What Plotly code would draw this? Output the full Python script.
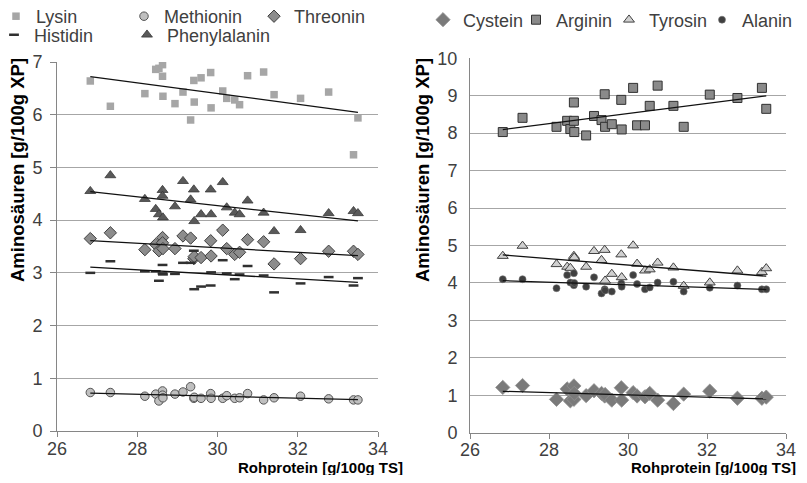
import numpy as np
import plotly.graph_objects as go

# Shared x: Rohprotein [g/100g TS]
rohprotein = [26.83, 27.33, 28.19, 28.46, 28.54, 28.63, 28.63, 28.64, 28.94, 29.14,
              29.33, 29.41, 29.42, 29.59, 29.83, 29.84, 30.13, 30.23, 30.43, 30.55,
              30.75, 31.15, 31.41, 32.07, 32.77, 33.39, 33.50]

# Left panel series [g/100g XP]
lysin = [6.64, 6.16, 6.40, 6.86, 6.88, 6.95, 6.73, 6.35, 6.21, 6.43,
         5.90, 6.65, 6.24, 6.70, 6.80, 6.13, 6.45, 6.31, 6.28, 6.19,
         6.74, 6.81, 6.38, 6.31, 6.43, 5.24, 5.94]
methionin = [0.73, 0.73, 0.66, 0.70, 0.57, 0.76, 0.68, 0.63, 0.70, 0.74,
             0.84, 0.62, 0.64, 0.62, 0.71, 0.62, 0.62, 0.67, 0.62, 0.63,
             0.71, 0.59, 0.63, 0.66, 0.61, 0.59, 0.59]
threonin = [3.65, 3.76, 3.44, 3.54, 3.42, 3.67, 3.57, 3.46, 3.46, 3.70,
            3.66, 3.27, 3.31, 3.29, 3.61, 3.32, 3.81, 3.46, 3.35, 3.39,
            3.63, 3.59, 3.17, 3.27, 3.41, 3.41, 3.35]
histidin = [3.00, 3.22, 3.03, 3.03, 2.85, 3.15, 2.99, 2.97, 2.98, 3.19,
            3.19, 3.42, 2.69, 2.74, 2.76, 3.01, 3.24, 2.99, 2.88, 2.97,
            3.13, 2.95, 2.63, 2.80, 2.92, 2.76, 2.90]
phenylalanin = [4.55, 4.85, 4.40, 4.21, 4.11, 4.57, 4.46, 4.05, 4.26, 4.74,
                4.39, 4.58, 3.98, 4.11, 4.58, 4.11, 4.72, 4.24, 4.14, 4.11,
                4.37, 4.14, 3.79, 3.81, 4.13, 4.17, 4.13]

# Right panel series [g/100g XP]
cystein = [1.21, 1.26, 0.89, 1.17, 0.85, 1.25, 0.89, 1.05, 0.99, 1.12,
           1.05, 0.98, 1.02, 0.87, 1.20, 0.87, 1.07, 0.98, 0.96, 1.05,
           0.87, 0.78, 1.03, 1.11, 0.92, 0.92, 0.95]
arginin = [8.03, 8.41, 8.17, 8.33, 8.11, 8.82, 8.33, 8.03, 7.94, 8.46,
           8.35, 9.04, 8.17, 8.24, 8.89, 8.10, 9.21, 8.21, 8.21, 8.73,
           9.27, 8.73, 8.17, 9.03, 8.94, 9.21, 8.65]
tyrosin = [4.72, 4.99, 4.50, 4.43, 4.40, 4.72, 4.66, 4.68, 4.43, 4.85,
           4.61, 4.88, 4.06, 4.24, 4.76, 4.15, 5.00, 4.51, 4.33, 4.36,
           4.54, 4.41, 3.92, 4.01, 4.33, 4.29, 4.39]
alanin = [4.10, 4.10, 3.86, 4.21, 4.01, 4.26, 3.94, 4.00, 3.90, 4.15,
          3.72, 3.83, 3.80, 3.77, 3.99, 3.90, 4.21, 3.97, 3.83, 3.88,
          4.01, 4.03, 3.77, 3.87, 3.93, 3.83, 3.83]

x_ticks = [26, 28, 30, 32, 34]
y_ticks_left = [0, 1, 2, 3, 4, 5, 6, 7]
y_ticks_right = [0, 1, 2, 3, 4, 5, 6, 7, 8, 9, 10]

# the page keeps the browser's default 8px body margin, so the figure is
# sized to fill the 807x483 window exactly inside it
PAGE_W, PAGE_H, BODY_M = 807, 483, 8
W, H = PAGE_W - 2 * BODY_M, PAGE_H - 2 * BODY_M
FONT = "Liberation Sans, Arial, sans-serif"
TICKC = "#404040"
GRID = "#a6a6a6"
AXC = "#868686"


def fx(p):
    """page pixel x -> paper fraction"""
    return (p - BODY_M) / W


def fy(p):
    """page pixel y (from top) -> paper fraction"""
    return 1 - (p - BODY_M) / H


fig = go.Figure()


def add_series(name, y, xa, ya, legend, symbol, size, color, lcolor, lwidth):
    fig.add_trace(go.Scatter(
        x=rohprotein, y=y, mode="markers", name=name, xaxis=xa, yaxis=ya,
        legend=legend,
        marker=dict(symbol=symbol, size=size, color=color,
                    line=dict(color=lcolor, width=lwidth)),
    ))
    xs = np.array(rohprotein)
    k, d = np.polyfit(xs, np.array(y), 1)
    x0, x1 = xs.min(), xs.max()
    fig.add_trace(go.Scatter(
        x=[x0, x1], y=[k * x0 + d, k * x1 + d], mode="lines",
        line=dict(color="#111111", width=1.3), showlegend=False,
        xaxis=xa, yaxis=ya, hoverinfo="skip",
    ))


add_series("Lysin", lysin, "x", "y", "legend", "square", 7.5, "#a6a6a6", "#a6a6a6", 0)
add_series("Methionin", methionin, "x", "y", "legend2", "circle", 8.5, "#bfbfbf", "#555555", 1)
add_series("Threonin", threonin, "x", "y", "legend3", "diamond", 9.5, "#8c8c8c", "#404040", 1)
add_series("Histidin", histidin, "x", "y", "legend4", "line-ew", 7, "#303030", "#303030", 2.5)
add_series("Phenylalanin", phenylalanin, "x", "y", "legend5", "triangle-up", 9.5, "#595959", "#3a3a3a", 0.8)

add_series("Cystein", cystein, "x2", "y2", "legend6", "diamond", 11, "#7a7a7a", "#909090", 0.8)
add_series("Arginin", arginin, "x2", "y2", "legend7", "square", 9, "#8a8a8a", "#303030", 1)
add_series("Tyrosin", tyrosin, "x2", "y2", "legend8", "triangle-up", 9.5, "#d0d0d0", "#404040", 1)
add_series("Alanin", alanin, "x2", "y2", "legend9", "circle", 7, "#404040", "#707070", 0.6)

LEGF = dict(family=FONT, size=18, color=TICKC)


def leg(item_x, center_y):
    return dict(orientation="h", x=fx(item_x), y=fy(center_y), xanchor="left",
                yanchor="middle", itemwidth=30, font=LEGF,
                bgcolor="rgba(0,0,0,0)", borderwidth=0)


common_x = dict(range=[26, 34], tickvals=x_ticks, showgrid=False, zeroline=False,
                showline=True, linecolor=AXC, linewidth=1, ticks="outside",
                ticklen=5, tickcolor=AXC, automargin=False, ticklabelstandoff=-4,
                tickfont=dict(family=FONT, size=18, color=TICKC))
common_y = dict(showgrid=True, gridcolor=GRID, gridwidth=1, zeroline=False,
                showline=True, linecolor=AXC, linewidth=1, automargin=False,
                tickfont=dict(family=FONT, size=18, color=TICKC))

fig.update_layout(
    width=W, height=H,
    margin=dict(l=0, r=0, t=0, b=0, pad=0, autoexpand=False),
    paper_bgcolor="white", plot_bgcolor="white",
    font=dict(family=FONT, color=TICKC),
    xaxis=dict(domain=[fx(57), fx(378)], anchor="y", **common_x),
    yaxis=dict(domain=[fy(431), fy(62)], anchor="x", range=[0, 7],
               tickvals=y_ticks_left, ticks="outside", ticklen=6, tickcolor=AXC,
               ticklabelstandoff=4, **common_y),
    xaxis2=dict(domain=[fx(470), fx(786)], anchor="y2", **common_x),
    yaxis2=dict(domain=[fy(432.7), fy(58.3)], anchor="x2", range=[0, 10],
                tickvals=y_ticks_right, ticks="", ticklabelstandoff=8, **common_y),
    legend=leg(-4, 16.5),
    legend2=leg(124, 16.5),
    legend3=leg(254, 16.5),
    legend4=leg(-6, 35),
    legend5=leg(127, 35),
    legend6=leg(423, 20),
    legend7=leg(516, 20),
    legend8=leg(609, 20),
    legend9=leg(702, 20),
    showlegend=True,
)

TITLEF = dict(family=FONT, size=15, color="#000000")
YTF = dict(family=FONT, size=18.5, color="#000000")
fig.add_annotation(text="<b>Rohprotein [g/100g TS]</b>", xref="paper", yref="paper",
                   x=fx(405), y=fy(467.5), xanchor="right", yanchor="middle",
                   showarrow=False, font=TITLEF)
fig.add_annotation(text="<b>Rohprotein [g/100g TS]</b>", xref="paper", yref="paper",
                   x=fx(798), y=fy(467.5), xanchor="right", yanchor="middle",
                   showarrow=False, font=TITLEF)
fig.add_annotation(text="<b>Aminosäuren [g/100g XP]</b>", xref="paper", yref="paper",
                   x=fx(18), y=fy(170), xanchor="center", yanchor="middle",
                   textangle=-90, showarrow=False, font=YTF)
fig.add_annotation(text="<b>Aminosäuren [g/100g XP]</b>", xref="paper", yref="paper",
                   x=fx(423), y=fy(170), xanchor="center", yanchor="middle",
                   textangle=-90, showarrow=False, font=YTF)

fig.write_html("out.html", include_plotlyjs=True,
               config={"displayModeBar": False})
